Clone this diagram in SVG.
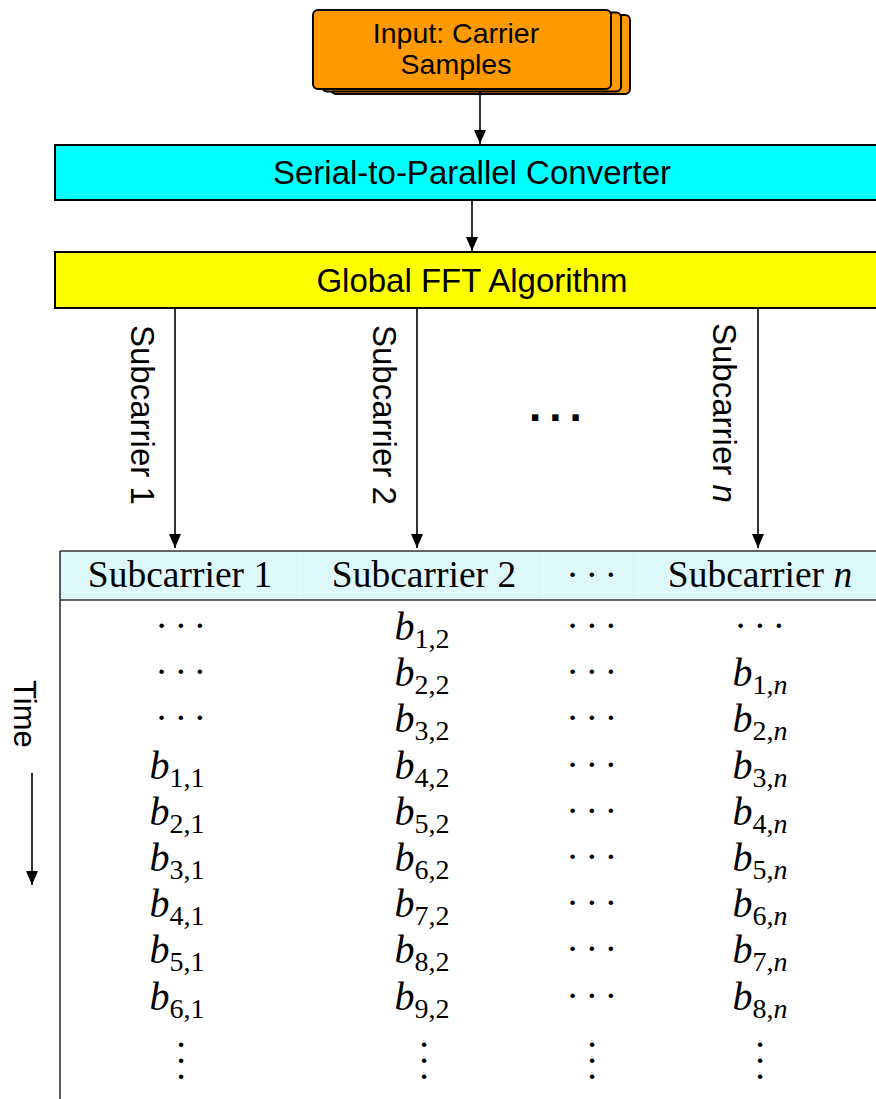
<svg xmlns="http://www.w3.org/2000/svg" width="876" height="1099" viewBox="0 0 876 1099">
<defs>
<style>
.sans{font-family:"Liberation Sans",Arial,Helvetica,sans-serif;fill:#000}
.serif{font-family:"Liberation Serif","Times New Roman",serif;fill:#000}
.cell{font-size:40px;text-anchor:middle}
.sub{font-size:28px;font-style:normal}
.it{font-style:italic}
.dots{font-size:38px;letter-spacing:6.5px;text-anchor:middle}
.vd{font-size:38px;text-anchor:middle}
.hdr{font-size:37.5px;text-anchor:middle}
.box{stroke:#000;stroke-width:2}
.conn{stroke:#000;stroke-width:1.6;fill:none}
.tl{stroke:#333;stroke-width:1.6;fill:none}
</style>
<marker id="ahb" viewBox="0 0 14 12" refX="14" refY="6" markerWidth="14" markerHeight="12" markerUnits="userSpaceOnUse" orient="auto">
<path d="M0,0 L14,6 L0,12 z" fill="#000"/>
</marker>
</defs>
<rect width="876" height="1099" fill="#fff"/>

<g id="input">
<rect class="box" x="331" y="15" width="299" height="79" rx="5" fill="#ff9900"/>
<rect class="box" x="322" y="12.5" width="299" height="79" rx="5" fill="#ff9900"/>
<rect class="box" x="313" y="10" width="298" height="79" rx="5" fill="#ff9900"/>
<text class="sans" x="456" y="43" font-size="28.5" text-anchor="middle">Input: Carrier</text>
<text class="sans" x="456" y="74" font-size="28.5" text-anchor="middle">Samples</text>
</g>

<g id="s2p">
<rect class="box" x="55" y="145" width="830" height="55" fill="#00ffff"/>
<text class="sans" x="472" y="184" font-size="33" text-anchor="middle">Serial-to-Parallel Converter</text>
</g>

<g id="fft">
<rect class="box" x="55" y="252" width="830" height="56" fill="#ffff00"/>
<text class="sans" x="472" y="292" font-size="33" text-anchor="middle">Global FFT Algorithm</text>
</g>

<g id="connectors">
<line class="conn" x1="480" y1="89" x2="480" y2="144" marker-end="url(#ahb)"/>
<line class="conn" x1="472" y1="200" x2="472" y2="251" marker-end="url(#ahb)"/>
<line class="conn" x1="175" y1="308" x2="175" y2="548" marker-end="url(#ahb)"/>
<line class="conn" x1="417" y1="308" x2="417" y2="548" marker-end="url(#ahb)"/>
<line class="conn" x1="758" y1="308" x2="758" y2="548" marker-end="url(#ahb)"/>
<line class="conn" x1="32" y1="773" x2="32" y2="885" marker-end="url(#ahb)"/>
</g>

<g id="labels">
<text class="sans" font-size="33" transform="translate(131,325) rotate(90)">Subcarrier 1</text>
<text class="sans" font-size="33" transform="translate(373,325) rotate(90)">Subcarrier 2</text>
<text class="sans" font-size="33" transform="translate(713,323) rotate(90)">Subcarrier <tspan class="it">n</tspan></text>
<text class="sans" font-size="44" font-weight="bold" letter-spacing="8" x="529" y="421">...</text>
<text class="sans" font-size="31" transform="translate(14,680) rotate(90)">Time</text>
</g>

<g id="table">
<rect x="60" y="551" width="820" height="49" fill="#dcf8fa"/>
<line x1="300" y1="552" x2="300" y2="599" stroke="#ecfcfd" stroke-width="1"/>
<line x1="543" y1="552" x2="543" y2="599" stroke="#ecfcfd" stroke-width="1"/>
<line x1="638" y1="552" x2="638" y2="599" stroke="#ecfcfd" stroke-width="1"/>
<line class="tl" x1="60" y1="551" x2="880" y2="551"/>
<line class="tl" x1="60" y1="600" x2="880" y2="600"/>
<line class="tl" x1="60" y1="551" x2="60" y2="1099"/>
<text class="serif hdr" x="180" y="587">Subcarrier 1</text>
<text class="serif hdr" x="424" y="587">Subcarrier 2</text>
<text class="serif dots" x="595" y="587">···</text>
<text class="serif hdr" x="760" y="587">Subcarrier <tspan class="it">n</tspan></text>

<text class="serif dots" x="184" y="638">···</text>
<text class="serif dots" x="184" y="684.2">···</text>
<text class="serif dots" x="184" y="730.4">···</text>
<text class="serif cell" x="177" y="778.6"><tspan class="it">b</tspan><tspan class="sub" dy="8">1,1</tspan></text>
<text class="serif cell" x="177" y="824.8"><tspan class="it">b</tspan><tspan class="sub" dy="8">2,1</tspan></text>
<text class="serif cell" x="177" y="871"><tspan class="it">b</tspan><tspan class="sub" dy="8">3,1</tspan></text>
<text class="serif cell" x="177" y="917.2"><tspan class="it">b</tspan><tspan class="sub" dy="8">4,1</tspan></text>
<text class="serif cell" x="177" y="963.4"><tspan class="it">b</tspan><tspan class="sub" dy="8">5,1</tspan></text>
<text class="serif cell" x="177" y="1009.6"><tspan class="it">b</tspan><tspan class="sub" dy="8">6,1</tspan></text>

<text class="serif cell" x="422" y="640"><tspan class="it">b</tspan><tspan class="sub" dy="8">1,2</tspan></text>
<text class="serif cell" x="422" y="686.2"><tspan class="it">b</tspan><tspan class="sub" dy="8">2,2</tspan></text>
<text class="serif cell" x="422" y="732.4"><tspan class="it">b</tspan><tspan class="sub" dy="8">3,2</tspan></text>
<text class="serif cell" x="422" y="778.6"><tspan class="it">b</tspan><tspan class="sub" dy="8">4,2</tspan></text>
<text class="serif cell" x="422" y="824.8"><tspan class="it">b</tspan><tspan class="sub" dy="8">5,2</tspan></text>
<text class="serif cell" x="422" y="871"><tspan class="it">b</tspan><tspan class="sub" dy="8">6,2</tspan></text>
<text class="serif cell" x="422" y="917.2"><tspan class="it">b</tspan><tspan class="sub" dy="8">7,2</tspan></text>
<text class="serif cell" x="422" y="963.4"><tspan class="it">b</tspan><tspan class="sub" dy="8">8,2</tspan></text>
<text class="serif cell" x="422" y="1009.6"><tspan class="it">b</tspan><tspan class="sub" dy="8">9,2</tspan></text>

<text class="serif dots" x="595" y="638">···</text>
<text class="serif dots" x="595" y="684.2">···</text>
<text class="serif dots" x="595" y="730.4">···</text>
<text class="serif dots" x="595" y="776.6">···</text>
<text class="serif dots" x="595" y="822.8">···</text>
<text class="serif dots" x="595" y="869">···</text>
<text class="serif dots" x="595" y="915.2">···</text>
<text class="serif dots" x="595" y="961.4">···</text>
<text class="serif dots" x="595" y="1007.6">···</text>

<text class="serif dots" x="763" y="638">···</text>
<text class="serif cell" x="760" y="686.2"><tspan class="it">b</tspan><tspan class="sub" dy="8">1,<tspan class="it">n</tspan></tspan></text>
<text class="serif cell" x="760" y="732.4"><tspan class="it">b</tspan><tspan class="sub" dy="8">2,<tspan class="it">n</tspan></tspan></text>
<text class="serif cell" x="760" y="778.6"><tspan class="it">b</tspan><tspan class="sub" dy="8">3,<tspan class="it">n</tspan></tspan></text>
<text class="serif cell" x="760" y="824.8"><tspan class="it">b</tspan><tspan class="sub" dy="8">4,<tspan class="it">n</tspan></tspan></text>
<text class="serif cell" x="760" y="871"><tspan class="it">b</tspan><tspan class="sub" dy="8">5,<tspan class="it">n</tspan></tspan></text>
<text class="serif cell" x="760" y="917.2"><tspan class="it">b</tspan><tspan class="sub" dy="8">6,<tspan class="it">n</tspan></tspan></text>
<text class="serif cell" x="760" y="963.4"><tspan class="it">b</tspan><tspan class="sub" dy="8">7,<tspan class="it">n</tspan></tspan></text>
<text class="serif cell" x="760" y="1009.6"><tspan class="it">b</tspan><tspan class="sub" dy="8">8,<tspan class="it">n</tspan></tspan></text>

<text class="serif vd"><tspan x="181" y="1057">·</tspan><tspan x="181" y="1073">·</tspan><tspan x="181" y="1089">·</tspan></text>
<text class="serif vd"><tspan x="424" y="1057">·</tspan><tspan x="424" y="1073">·</tspan><tspan x="424" y="1089">·</tspan></text>
<text class="serif vd"><tspan x="592" y="1057">·</tspan><tspan x="592" y="1073">·</tspan><tspan x="592" y="1089">·</tspan></text>
<text class="serif vd"><tspan x="760" y="1057">·</tspan><tspan x="760" y="1073">·</tspan><tspan x="760" y="1089">·</tspan></text>
</g>
</svg>
